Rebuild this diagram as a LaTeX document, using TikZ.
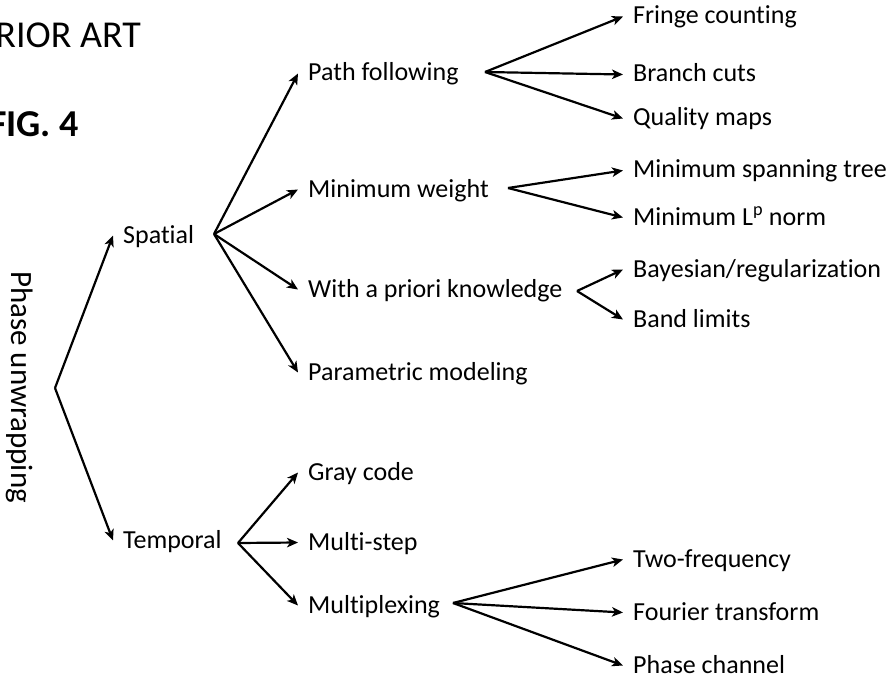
\documentclass[tikz,border=0pt]{standalone}
\usepackage{fontspec}
\setmainfont[Ligatures=NoCommon]{Carlito}
\usetikzlibrary{arrows.meta,positioning}
\tikzset{
    >={Stealth[length=11pt,width=9.5pt,inset=3pt]},
    item/.style={
        anchor=base west,
        inner xsep=10pt, inner ysep=0pt,
        text height=17pt, text depth=2pt,
        font=\fontsize{26}{31}\selectfont
    },
    title/.style={anchor=base east, inner sep=0pt, font=\fontsize{38}{44}\selectfont},
    branch/.style={draw, line width=2.2pt, ->}
}

\begin{document}
\begin{tikzpicture}[x=1pt,y=-1pt]
\useasboundingbox (0,0) rectangle (888,679);
\node[title] (prior) at (141,48) {PRIOR ART};
\node[title, font=\fontsize{38}{44}\selectfont\bfseries] (fig) at (79,137) {FIG. 4};
\node[rotate=-90, inner sep=0pt, font=\fontsize{31}{36}\selectfont] (phase) at (20,387) {Phase unwrapping};

\node[item] (spatial) at (113,243) {Spatial};
\node[item] (temporal) at (113,548) {Temporal};

\node[item] (pathf) at (298,81) {Path following};
\node[item] (minw) at (298,197) {Minimum weight};
\node[item] (apriori) at (298,297) {With a priori knowledge};
\node[item] (param) at (298,380) {Parametric modeling};
\node[item] (gray) at (298,480) {Gray code};
\node[item] (mstep) at (298,550) {Multi-step};
\node[item] (mplex) at (298,613) {Multiplexing};

\node[item] (fringe) at (623,24) {Fringe counting};
\node[item] (branchc) at (623,82) {Branch cuts};
\node[item] (quality) at (623,126) {Quality maps};
\node[item] (mst) at (623,178) {Minimum spanning tree};
\node[item] (lpnorm) at (623,225) {Minimum L\textsuperscript{p} norm};
\node[item] (bayes) at (623,277) {Bayesian/regularization};
\node[item] (band) at (623,327) {Band limits};
\node[item] (twof) at (623,567) {Two-frequency};
\node[item] (fourier) at (623,620) {Fourier transform};
\node[item] (pchan) at (623,673) {Phase channel};

\coordinate (root) at (55,388);
\coordinate (spfork) at (214,234);
\coordinate (tefork) at (238,543);
\coordinate (pffork) at (485,72);
\coordinate (mwfork) at (508,188);
\coordinate (apfork) at (577,291);
\coordinate (mxfork) at (453,603);

\draw[branch] (root) -- (spatial.west);
\draw[branch] (root) -- (temporal.west);
\foreach \n in {pathf,minw,apriori,param}
    \draw[branch] (spfork) -- (\n.west);
\foreach \n in {gray,mstep,mplex}
    \draw[branch] (tefork) -- (\n.west);
\foreach \n in {fringe,branchc,quality}
    \draw[branch] (pffork) -- (\n.west);
\foreach \n in {mst,lpnorm}
    \draw[branch] (mwfork) -- (\n.west);
\foreach \n in {bayes,band}
    \draw[branch] (apfork) -- (\n.west);
\foreach \n in {twof,fourier,pchan}
    \draw[branch] (mxfork) -- (\n.west);
\end{tikzpicture}
\end{document}
